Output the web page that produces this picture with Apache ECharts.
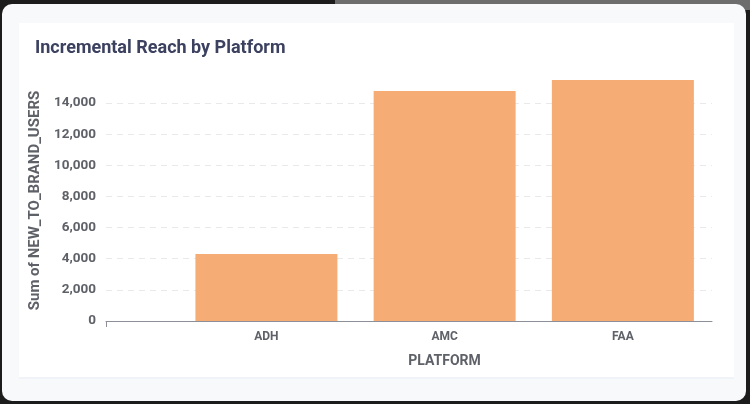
<!DOCTYPE html>
<html>
<head>
<meta charset="utf-8">
<script src="https://cdn.jsdelivr.net/npm/echarts@6/dist/echarts.min.js"></script>
<style>
  html, body { margin: 0; padding: 0; width: 750px; height: 404px; overflow: hidden; background: #1c1c1c; }
  .topgrey { position: absolute; left: 335px; top: 0; width: 415px; height: 10px; background: #6d6d6d; }
  .card { position: absolute; left: 2px; top: 4px; width: 744px; height: 397px; background: #f8f9fa; border-radius: 10px; }
  .panel { position: absolute; left: 19px; top: 23px; width: 715px; height: 354px; background: #fff; border-bottom: 2px solid #f0f3f8; }
  #chart { position: absolute; left: 0; top: 0; width: 750px; height: 404px; }
</style>
</head>
<body>
<div class="topgrey"></div>
<div class="card"></div>
<div class="panel"></div>
<div id="chart"></div>
<script>
// data
var platforms = ['ADH', 'AMC', 'FAA']
var newToBrandUsers = [4300, 14770, 15480]

var barData = platforms.map(function (p, i) {
  return [i, newToBrandUsers[i]]
})

var myChart = echarts.init(document.getElementById('chart'))
var option = {
  backgroundColor: 'transparent',
  animation: false,
  title: {
    text: 'Incremental Reach by Platform',
    left: 30,
    top: 34,
    textStyle: { fontFamily: 'Roboto', fontSize: 18, fontWeight: 'bold', color: '#3c4160' }
  },
  grid: { left: 106, right: 38, top: 80, bottom: 83 },
  xAxis: {
    type: 'value',
    min: -0.9,
    max: 2.5,
    name: 'PLATFORM',
    nameLocation: 'middle',
    nameGap: 33,
    nameTextStyle: { fontFamily: 'Roboto', fontSize: 14, fontWeight: 'bold', color: '#5f6168', padding: [0, 0, 0, 71] },
    axisLine: { show: true, lineStyle: { color: '#8d9098', width: 1 } },
    axisTick: { show: true, customValues: [-0.9], length: 6, lineStyle: { color: '#8d9098' } },
    axisLabel: {
      customValues: [0, 1, 2],
      margin: 10,
      fontFamily: 'Roboto', fontSize: 12, fontWeight: 'bold', color: '#5f6168',
      formatter: function (v) { return platforms[Math.round(v)] }
    },
    splitLine: { show: false }
  },
  yAxis: {
    type: 'value',
    min: 0,
    max: 'dataMax',
    interval: 2000,
    name: 'Sum of NEW_TO_BRAND_USERS',
    nameLocation: 'middle',
    nameRotate: 90,
    nameGap: 54,
    nameTextStyle: { fontFamily: 'Roboto', fontSize: 15, fontWeight: 'bold', color: '#5f6168' },
    axisLine: { show: false },
    axisTick: { show: false },
    axisLabel: {
      showMaxLabel: false,
      margin: 10,
      fontFamily: 'Roboto', fontSize: 13.5, fontWeight: 'bold', color: '#5f6168',
      formatter: function (v) { return v.toLocaleString('en-US') }
    },
    splitLine: { show: true, showMaxLine: false, lineStyle: { color: '#e9e9ec', type: [6, 5] } }
  },
  series: [{
    type: 'bar',
    data: barData,
    barWidth: 142,
    itemStyle: { color: '#f5ad75' }
  }]
}
myChart.setOption(option)
</script>
</body>
</html>
